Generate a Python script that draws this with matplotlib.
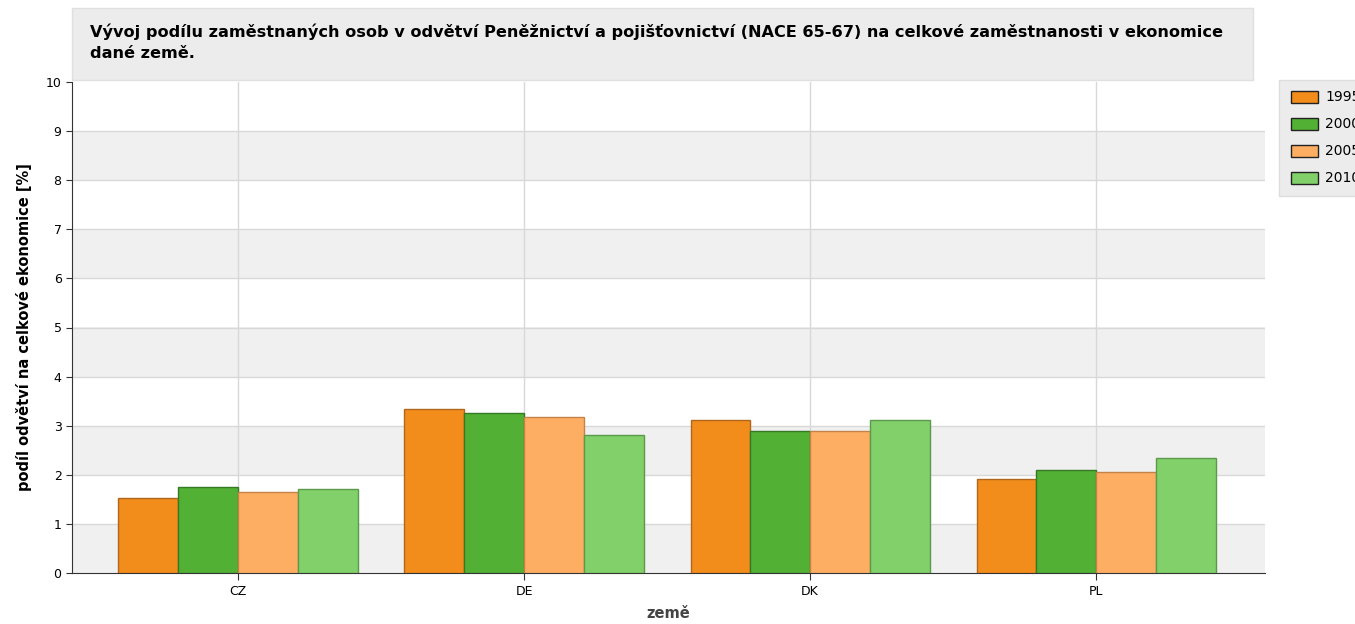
import numpy as np
import matplotlib
matplotlib.use('Agg')
import matplotlib.pyplot as plt
from matplotlib.patches import Rectangle

# ---------------- data ----------------
countries = ['CZ', 'DE', 'DK', 'PL']
years = ['1995', '2000', '2005', '2010']
v1995 = [1.52, 3.34, 3.12, 1.91]
v2000 = [1.75, 3.26, 2.89, 2.10]
v2005 = [1.65, 3.18, 2.89, 2.06]
v2010 = [1.71, 2.81, 3.12, 2.34]
series = [v1995, v2000, v2005, v2010]

fills = ['#f28c1a', '#52b035', '#fdae62', '#82d06a']
edges = ['#b0661c', '#357a22', '#c4824a', '#5b9a4a']

plt.rcParams['font.family'] = ['DejaVu Sans']

fig = plt.figure(figsize=(13.55, 6.24), dpi=100)
W, H = 1355, 624
ax = fig.add_axes([72 / W, 1 - 573 / H, (1265 - 72) / W, (573 - 82) / H])

# alternating bands
for k in range(10):
    if k % 2 == 0:
        ax.axhspan(k, k + 1, color='#f0f0f0', zorder=0, lw=0)
for k in range(1, 10):
    ax.axhline(k, color='#d8d8d8', lw=1, zorder=1)

x = np.arange(len(countries))
bw = 0.209
for i, vals in enumerate(series):
    ax.bar(x + (i - 1.5) * bw, vals, width=bw, color=fills[i], edgecolor=edges[i],
           linewidth=1, zorder=3)

for xi in x:
    ax.axvline(xi, color='#d8d8d8', lw=1, zorder=1)

ax.set_xlim(-0.58, 3.59)
ax.set_ylim(0, 10)
ax.set_yticks(range(0, 11))
ax.set_xticks(x)
ax.set_xticklabels(countries)
ax.tick_params(axis='both', labelsize=9, color='#333333', length=4)
ax.tick_params(axis='x', length=5)
for s in ['top', 'right']:
    ax.spines[s].set_visible(False)
ax.spines['left'].set_color('#333333')
ax.spines['bottom'].set_color('#333333')

ax.set_ylabel('podíl odvětví na celkové ekonomice [%]', fontsize=10.5, fontweight='bold', labelpad=10)
ax.set_xlabel('země', fontsize=10.5, fontweight='bold', color='#444444', labelpad=6)

# title box
fig.patches.append(Rectangle((72 / W, 1 - 80 / H), (1253 - 72) / W, 72 / H,
                             transform=fig.transFigure, facecolor='#ececec',
                             edgecolor='#e0e0e0', lw=1, zorder=0))
fig.text(90 / W, 1 - 24 / H,
         'Vývoj podílu zaměstnaných osob v odvětví Peněžnictví a pojišťovnictví (NACE 65-67) na celkové zaměstnanosti v ekonomice\ndané země.',
         fontsize=11.6, fontweight='bold', va='top', ha='left', linespacing=1.45)

# legend box (clipped at right edge, like the original)
fig.patches.append(Rectangle((1279 / W, 1 - 196 / H), 100 / W, 116 / H,
                             transform=fig.transFigure, facecolor='#ececec',
                             edgecolor='#dddddd', lw=1, zorder=0))
for i, yr in enumerate(years):
    yc = 97 + i * 27
    fig.patches.append(Rectangle((1291 / W, 1 - (yc + 6) / H), 27 / W, 12 / H,
                                 transform=fig.transFigure, facecolor=fills[i],
                                 edgecolor='#222222', lw=1))
    fig.text(1325 / W, 1 - yc / H, yr, fontsize=10, va='center', ha='left')

fig.savefig('out.png', dpi=100)
